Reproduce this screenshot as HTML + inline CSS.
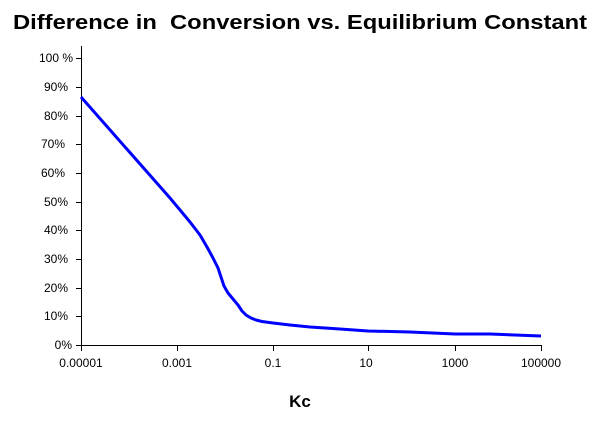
<!DOCTYPE html><html><head><style>body{margin:0;background:#fff}svg text{font-family:"Liberation Sans",Arial,sans-serif}</style></head><body>
<svg width="600" height="424" xmlns="http://www.w3.org/2000/svg">
<text x="300" y="29" text-anchor="middle" font-size="20" font-weight="bold" textLength="574" lengthAdjust="spacingAndGlyphs">Difference in&#160; Conversion vs. Equilibrium Constant</text>
<g stroke="#000" stroke-width="1" fill="none">
<line x1="81.5" y1="46" x2="81.5" y2="345"/>
<line x1="81" y1="345.5" x2="542" y2="345.5"/>
<line x1="76" y1="58.5" x2="81" y2="58.5"/><line x1="76" y1="87.5" x2="81" y2="87.5"/><line x1="76" y1="116.5" x2="81" y2="116.5"/><line x1="76" y1="144.5" x2="81" y2="144.5"/><line x1="76" y1="173.5" x2="81" y2="173.5"/><line x1="76" y1="202.5" x2="81" y2="202.5"/><line x1="76" y1="230.5" x2="81" y2="230.5"/><line x1="76" y1="259.5" x2="81" y2="259.5"/><line x1="76" y1="288.5" x2="81" y2="288.5"/><line x1="76" y1="316.5" x2="81" y2="316.5"/><line x1="76" y1="345.5" x2="81" y2="345.5"/>
<line x1="81.5" y1="345" x2="81.5" y2="351"/><line x1="177.5" y1="345" x2="177.5" y2="351"/><line x1="273.5" y1="345" x2="273.5" y2="351"/><line x1="368.5" y1="345" x2="368.5" y2="351"/><line x1="455.5" y1="345" x2="455.5" y2="351"/><line x1="541.5" y1="345" x2="541.5" y2="351"/>
</g>
<g font-size="12" text-anchor="end">
<text x="73" y="62">100 %</text><text x="68" y="91">90%</text><text x="68" y="120">80%</text><text x="65" y="148">70%</text><text x="65" y="177">60%</text><text x="68" y="206">50%</text><text x="68" y="234">40%</text><text x="68" y="263">30%</text><text x="68" y="292">20%</text><text x="68" y="320">10%</text><text x="72" y="349">0%</text>
</g>
<g font-size="12" text-anchor="middle">
<text x="81" y="367">0.00001</text><text x="177" y="367">0.001</text><text x="273" y="367">0.1</text><text x="366" y="367">10</text><text x="455" y="367">1000</text><text x="541" y="367">100000</text>
</g>
<text x="300" y="407" text-anchor="middle" font-size="17" font-weight="bold">Kc</text>
<polyline fill="none" stroke="#0000ff" stroke-width="3" stroke-linejoin="round" points="81,97 170,198 180,210 190,222 200,235 207,247 213,258 218,268 221,277 224,286 228,293 233,299 238,305 242,311 246,315 251,318 256,320 262,321.5 273,323 290,325 310,327 340,329 368,331 410,332 455,334 490,334 541,336"/>
</svg></body></html>
